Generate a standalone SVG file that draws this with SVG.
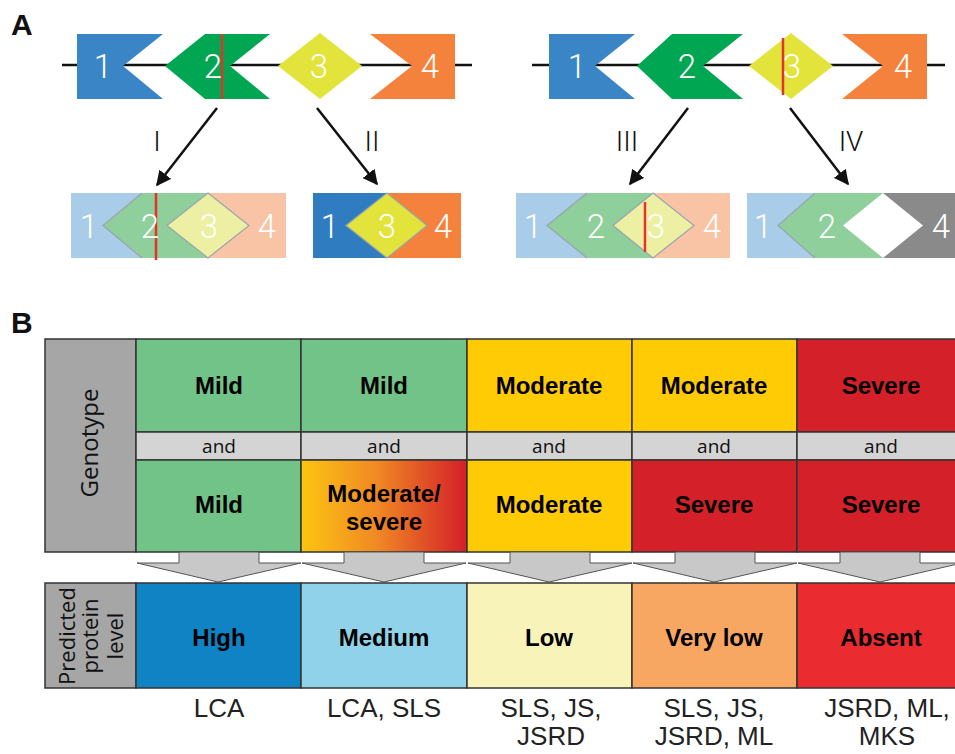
<svg xmlns="http://www.w3.org/2000/svg" width="955" height="754" viewBox="0 0 955 754">
<style>
.panel{font-family:"Liberation Sans",Arial,sans-serif;font-weight:bold;font-size:30px;fill:#111}
.num{font-family:Roboto,"Liberation Sans",sans-serif;font-weight:300;font-size:33px;fill:#fff;text-anchor:middle}
.rom{font-family:Roboto,"Liberation Sans",sans-serif;font-weight:300;font-size:28px;fill:#111;text-anchor:middle}
.val{font-family:"Liberation Sans",Arial,sans-serif;font-weight:bold;font-size:24px;fill:#000;text-anchor:middle}
.and{font-family:"Open Sans","Liberation Sans",sans-serif;font-size:19px;fill:#111;text-anchor:middle}
.side{font-family:"Open Sans","Liberation Sans",sans-serif;font-size:22px;fill:#111;text-anchor:middle}
.dis{font-family:"Liberation Sans",Arial,sans-serif;font-size:26px;fill:#222;text-anchor:middle}
.cell{stroke:#333;stroke-width:1.5}
.arr{stroke:#111;stroke-width:2.5;fill:none;marker-end:url(#ah)}
.blk{fill:#c8c8c8;stroke:#555;stroke-width:1}
.red{stroke:#e5322a;stroke-width:2.5}
.ol{stroke:#9aa4ad;stroke-width:1.2}
</style>
<defs>
<marker id="ah" viewBox="0 0 10 10" refX="9" refY="5" markerWidth="6" markerHeight="6" orient="auto" markerUnits="strokeWidth">
<path d="M0,0 L10,5 L0,10 z" fill="#111"/>
</marker>
<linearGradient id="ms" x1="0" y1="0" x2="1" y2="0">
<stop offset="0" stop-color="#fcc511"/>
<stop offset="0.45" stop-color="#f08a24"/>
<stop offset="1" stop-color="#d41f28"/>
</linearGradient>
</defs>
<rect width="955" height="754" fill="#fff"/>

<text class="panel" x="11" y="35">A</text>
<text class="panel" x="11" y="333">B</text>

<!-- Panel A left gene -->
<g id="geneLeft">
<line x1="62" y1="65" x2="472" y2="65" stroke="#111" stroke-width="2.5"/>
<polygon points="77,34 163,34 123,66 163,99 77,99" fill="#3a85c6"/>
<text class="num" x="103" y="78">1</text>
<polygon points="165,66 205,34 270,34 230,66 270,99 205,99" fill="#00a651"/>
<line class="red" x1="222" y1="34" x2="222" y2="99"/>
<text class="num" x="213" y="78">2</text>
<polygon points="278,66 320,33 362,66 320,99" fill="#e2e33b"/>
<text class="num" x="319" y="78">3</text>
<polygon points="370,34 455,34 455,99 370,99 412,66" fill="#f5823c"/>
<text class="num" x="430" y="78">4</text>
</g>

<!-- Panel A right gene -->
<g id="geneRight">
<line x1="532" y1="65" x2="945" y2="65" stroke="#111" stroke-width="2.5"/>
<polygon points="549,34 635,34 595,66 635,99 549,99" fill="#3a85c6"/>
<text class="num" x="577" y="78">1</text>
<polygon points="637,66 672,34 743,34 703,66 743,99 672,99" fill="#00a651"/>
<text class="num" x="687" y="78">2</text>
<polygon points="749,66 791,33 833,66 791,99" fill="#e2e33b"/>
<line class="red" x1="783" y1="38" x2="783" y2="95"/>
<text class="num" x="792" y="78">3</text>
<polygon points="842,34 927,34 927,99 842,99 883,66" fill="#f5823c"/>
<text class="num" x="903" y="78">4</text>
</g>

<!-- Outcome I -->
<g id="outI">
<rect x="71" y="193" width="137" height="65" fill="#a9cce9"/>
<rect x="208" y="193" width="78" height="65" fill="#f9c4a6"/>
<polygon points="103,225.5 142,193 208,193 208,258 142,258" fill="#8ecf9c"/>
<polyline class="ol" points="142,193 103,225.5 142,258" fill="none"/>
<polygon class="ol" points="167,225.5 208,193 249,225.5 208,258" fill="#edefa3"/>
<line class="red" x1="156" y1="193" x2="156" y2="260"/>
<text class="num" x="89" y="238">1</text>
<text class="num" x="150" y="238">2</text>
<text class="num" x="209" y="238">3</text>
<text class="num" x="267" y="238">4</text>
</g>

<!-- Outcome II -->
<g id="outII">
<rect x="313" y="193" width="74" height="65" fill="#2f7cc1"/>
<rect x="387" y="193" width="74" height="65" fill="#f5823c"/>
<polygon class="ol" points="346,225.5 387,193 427,225.5 387,258" fill="#e2e33b"/>
<text class="num" x="330" y="238">1</text>
<text class="num" x="387" y="238">3</text>
<text class="num" x="443" y="238">4</text>
</g>

<!-- Outcome III -->
<g id="outIII">
<rect x="516" y="193" width="137" height="65" fill="#a9cce9"/>
<rect x="653" y="193" width="77" height="65" fill="#f9c4a6"/>
<polygon points="547,225.5 587,193 653,193 653,258 587,258" fill="#8ecf9c"/>
<polyline class="ol" points="587,193 547,225.5 587,258" fill="none"/>
<polygon class="ol" points="613,225.5 653,193 694,225.5 653,258" fill="#edefa3"/>
<line class="red" x1="645" y1="202" x2="645" y2="252"/>
<text class="num" x="533" y="238">1</text>
<text class="num" x="596" y="238">2</text>
<text class="num" x="656" y="238">3</text>
<text class="num" x="712" y="238">4</text>
</g>

<!-- Outcome IV -->
<g id="outIV">
<rect x="747" y="193" width="136" height="65" fill="#a9cce9"/>
<rect x="883" y="193" width="80" height="65" fill="#8a8a8a"/>
<polygon points="778,225.5 815,193 883,193 883,258 815,258" fill="#8ecf9c"/>
<polyline class="ol" points="815,193 778,225.5 815,258" fill="none"/>
<polygon points="843,225.5 883,193 923,225.5 883,258" fill="#fff"/>
<text class="num" x="763" y="238">1</text>
<text class="num" x="827" y="238">2</text>
<text class="num" x="941" y="238">4</text>
</g>

<!-- Panel B genotype table -->
<g id="genotypeLabel">
<rect class="cell" x="45" y="339" width="91" height="213" fill="#a6a6a6"/>
<text class="side" transform="translate(98,443) rotate(-90)" style="font-size:24px">Genotype</text>
</g>
<g id="geno1">
<rect class="cell" x="136" y="339" width="165" height="93" fill="#72c388"/>
<rect class="cell" x="136" y="432" width="165" height="28" fill="#d4d4d4"/>
<rect class="cell" x="136" y="460" width="165" height="92" fill="#72c388"/>
<text class="val" x="219" y="394">Mild</text>
<text class="and" x="219" y="453">and</text>
<text class="val" x="219" y="513">Mild</text>
</g>
<g id="geno2">
<rect class="cell" x="301" y="339" width="166" height="93" fill="#72c388"/>
<rect class="cell" x="301" y="432" width="166" height="28" fill="#d4d4d4"/>
<rect class="cell" x="301" y="460" width="166" height="92" fill="url(#ms)"/>
<text class="val" x="384" y="394">Mild</text>
<text class="and" x="384" y="453">and</text>
<text class="val" x="384" y="502">Moderate/</text>
<text class="val" x="384" y="530">severe</text>
</g>
<g id="geno3">
<rect class="cell" x="467" y="339" width="165" height="93" fill="#ffcb05"/>
<rect class="cell" x="467" y="432" width="165" height="28" fill="#d4d4d4"/>
<rect class="cell" x="467" y="460" width="165" height="92" fill="#ffcb05"/>
<text class="val" x="549" y="394">Moderate</text>
<text class="and" x="549" y="453">and</text>
<text class="val" x="549" y="513">Moderate</text>
</g>
<g id="geno4">
<rect class="cell" x="632" y="339" width="165" height="93" fill="#ffcb05"/>
<rect class="cell" x="632" y="432" width="165" height="28" fill="#d4d4d4"/>
<rect class="cell" x="632" y="460" width="165" height="92" fill="#d42129"/>
<text class="val" x="714" y="394">Moderate</text>
<text class="and" x="714" y="453">and</text>
<text class="val" x="714" y="513">Severe</text>
</g>
<g id="geno5">
<rect class="cell" x="797" y="339" width="166" height="93" fill="#d42129"/>
<rect class="cell" x="797" y="432" width="166" height="28" fill="#d4d4d4"/>
<rect class="cell" x="797" y="460" width="166" height="92" fill="#d42129"/>
<text class="val" x="881" y="394">Severe</text>
<text class="and" x="881" y="453">and</text>
<text class="val" x="881" y="513">Severe</text>
</g>

<!-- Connectors -->
<g id="connectors">
<line class="arr" x1="217" y1="108" x2="157" y2="185"/>
<line class="arr" x1="317" y1="108" x2="377" y2="184"/>
<line class="arr" x1="688" y1="108" x2="630" y2="184"/>
<line class="arr" x1="790" y1="108" x2="848" y2="184"/>
<text class="rom" x="157" y="151">I</text>
<text class="rom" x="372" y="151">II</text>
<text class="rom" x="627" y="151">III</text>
<text class="rom" x="851" y="151">IV</text>
<polygon class="blk" points="179,552 259,552 259,563 301,563 218,582 137,563 179,563"/>
<polygon class="blk" points="344,552 424,552 424,563 466,563 384,582 302,563 344,563"/>
<polygon class="blk" points="510,552 590,552 590,563 632,563 549,582 468,563 510,563"/>
<polygon class="blk" points="675,552 755,552 755,563 797,563 714,582 633,563 675,563"/>
<polygon class="blk" points="840,552 920,552 920,563 962,563 880,582 798,563 840,563"/>
</g>

<!-- Protein level row -->
<g id="proteinLabel">
<rect class="cell" x="45" y="583" width="91" height="105" fill="#a6a6a6"/>
<text class="side" transform="translate(75,636) rotate(-90)">Predicted</text>
<text class="side" transform="translate(98,636) rotate(-90)">protein</text>
<text class="side" transform="translate(123,636) rotate(-90)">level</text>
</g>
<g id="lvlHigh">
<rect class="cell" x="136" y="583" width="165" height="105" fill="#0f83c4"/>
<text class="val" x="219" y="646">High</text>
<text class="dis" x="219" y="717">LCA</text>
</g>
<g id="lvlMedium">
<rect class="cell" x="301" y="583" width="166" height="105" fill="#8fd2e9"/>
<text class="val" x="384" y="646">Medium</text>
<text class="dis" x="384" y="717">LCA, SLS</text>
</g>
<g id="lvlLow">
<rect class="cell" x="467" y="583" width="165" height="105" fill="#f8f4b9"/>
<text class="val" x="549" y="646">Low</text>
<text class="dis" x="551" y="717">SLS, JS,</text>
<text class="dis" x="551" y="745">JSRD</text>
</g>
<g id="lvlVeryLow">
<rect class="cell" x="632" y="583" width="165" height="105" fill="#f7a762"/>
<text class="val" x="714" y="646">Very low</text>
<text class="dis" x="714" y="717">SLS, JS,</text>
<text class="dis" x="714" y="745">JSRD, ML</text>
</g>
<g id="lvlAbsent">
<rect class="cell" x="797" y="583" width="166" height="105" fill="#ea2b2f"/>
<text class="val" x="881" y="646">Absent</text>
<text class="dis" x="887" y="717">JSRD, ML,</text>
<text class="dis" x="887" y="745">MKS</text>
</g>
</svg>
